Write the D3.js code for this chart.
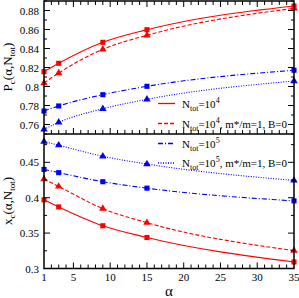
<!DOCTYPE html>
<html>
<head>
<meta charset="utf-8">
<script src="https://cdn.jsdelivr.net/npm/d3@7"></script>
<style>
  body { margin: 0; background: #fff; }
  svg { display: block; }
  svg text { font-family: "Liberation Serif", "DejaVu Serif", serif; }
</style>
</head>
<body>
<div id="grafica"></div>
<script>
// alpha values shared by all series
var alphas = [1, 3, 9, 15, 35];

// top panel: P_c(alpha, N_tot)
var pcN4 = [0.8156, 0.8244, 0.8465, 0.8598, 0.8847];
var pcN4free = [0.8037, 0.8142, 0.8392, 0.8539, 0.8823];
var pcN5 = [0.7742, 0.7795, 0.7914, 0.8002, 0.8171];
var pcN5free = [0.7549, 0.7623, 0.7766, 0.7865, 0.8058];

// bottom panel: x_c(alpha, N_tot)
var xcN4 = [0.3970, 0.3870, 0.3604, 0.3438, 0.3092];
var xcN4free = [0.4263, 0.4159, 0.3846, 0.3647, 0.3253];
var xcN5 = [0.4400, 0.4354, 0.4226, 0.4135, 0.3955];
var xcN5free = [0.4794, 0.4742, 0.4585, 0.4476, 0.4244];

var xTicks = [1, 5, 10, 15, 20, 25, 30, 35];
var pcTicks = [0.76, 0.78, 0.8, 0.82, 0.84, 0.86, 0.88];
var xcTicks = [0.3, 0.35, 0.4, 0.45];

var legendLabels = [
  { pow: "4", extra: "" },
  { pow: "4", extra: ", m*/m=1, B=0" },
  { pow: "5", extra: "" },
  { pow: "5", extra: ", m*/m=1, B=0" }
];

var W = 299, H = 298;
var left = 44, right = 294, top1 = 1, mid = 134, bot = 268.5;
var serif = "Liberation Serif";

var svg = d3.select("#grafica")
            .append("svg")
            .attr("width", W)
            .attr("height", H)
            .attr("font-family", serif);

var x = d3.scaleLinear().domain([1, 35]).range([left, right]);
var y1 = d3.scaleLinear().domain([0.75, 0.89]).range([mid, top1]);
var y2 = d3.scaleLinear().domain([0.3, 0.49]).range([bot, mid]);

var series = [
  { top: pcN4, bottom: xcN4, color: "#ff0000", dash: null, mark: "square" },
  { top: pcN4free, bottom: xcN4free, color: "#ff0000", dash: "4,2", mark: "triangle" },
  { top: pcN5, bottom: xcN5, color: "#0000ff", dash: "5,2,1,2", mark: "square" },
  { top: pcN5free, bottom: xcN5free, color: "#0000ff", dash: "1,1.5", mark: "triangle" }
];

function drawSeries(yScale, key) {
  var line = d3.line()
    .x(function(d) { return x(d[0]); })
    .y(function(d) { return yScale(d[1]); })
    .curve(d3.curveMonotoneX);
  series.forEach(function(s) {
    var pts = alphas.map(function(a, i) { return [a, s[key][i]]; });
    svg.append("path")
      .attr("d", line(pts))
      .attr("fill", "none")
      .attr("stroke", s.color)
      .attr("stroke-width", 1.1)
      .attr("stroke-dasharray", s.dash);
    var sym = d3.symbol()
      .type(s.mark == "square" ? d3.symbolSquare : d3.symbolTriangle)
      .size(s.mark == "square" ? 26 : 24);
    svg.selectAll(null)
      .data(pts)
      .enter()
      .append("path")
        .attr("d", sym)
        .attr("fill", s.color)
        .attr("transform", function(d) {
          return "translate(" + x(d[0]) + "," + yScale(d[1]) + ")";
        });
  });
}

drawSeries(y1, "top");
drawSeries(y2, "bottom");

// ticks, all inward
function tickLines(vals, fn) {
  vals.forEach(function(v) {
    var c = fn(v);
    svg.append("line")
      .attr("x1", c[0]).attr("y1", c[1]).attr("x2", c[2]).attr("y2", c[3])
      .attr("stroke", "#000").attr("stroke-width", 1);
  });
}

var xMajor = [5, 10, 15, 20, 25, 30];
var xMinor = d3.range(2, 35).filter(function(v) { return v % 5 != 0; });

// top panel, top and bottom edges
[top1, mid].forEach(function(yy) {
  var dir = yy == top1 ? 1 : -1;
  tickLines(xMajor, function(v) { return [x(v), yy, x(v), yy + dir * 6]; });
  tickLines(xMinor, function(v) { return [x(v), yy, x(v), yy + dir * 4]; });
});
// bottom panel bottom edge
tickLines(xMajor, function(v) { return [x(v), bot, x(v), bot - 6]; });
tickLines(xMinor, function(v) { return [x(v), bot, x(v), bot - 4]; });

var pcMinor = [0.75, 0.77, 0.79, 0.81, 0.83, 0.85, 0.87, 0.89];
var xcMinor = [0.325, 0.375, 0.425, 0.475];
[left, right].forEach(function(xx) {
  var dir = xx == left ? 1 : -1;
  tickLines(pcTicks, function(v) { return [xx, y1(v), xx + dir * 6, y1(v)]; });
  tickLines(pcMinor, function(v) { return [xx, y1(v), xx + dir * 3, y1(v)]; });
  tickLines(xcTicks, function(v) { return [xx, y2(v), xx + dir * 6, y2(v)]; });
  tickLines(xcMinor, function(v) { return [xx, y2(v), xx + dir * 3, y2(v)]; });
});

// frames
svg.append("rect")
  .attr("x", left).attr("y", top1)
  .attr("width", right - left).attr("height", bot - top1)
  .attr("fill", "none").attr("stroke", "#000").attr("stroke-width", 1.5);
svg.append("line")
  .attr("x1", left).attr("x2", right).attr("y1", mid).attr("y2", mid)
  .attr("stroke", "#000").attr("stroke-width", 1.5);

// tick labels
svg.selectAll("text.xl")
  .data(xTicks)
  .enter()
  .append("text")
    .attr("x", function(d) { return x(d); })
    .attr("y", 281)
    .attr("text-anchor", "middle")
    .attr("font-family", serif)
    .attr("font-size", 11)
    .text(function(d) { return d; });

svg.selectAll("text.y1")
  .data(pcTicks)
  .enter()
  .append("text")
    .attr("x", 39)
    .attr("y", function(d) { return y1(d) + 4; })
    .attr("text-anchor", "end")
    .attr("font-family", serif)
    .attr("font-size", 11)
    .text(function(d) { return d; });

svg.selectAll("text.y2")
  .data(xcTicks)
  .enter()
  .append("text")
    .attr("x", 39)
    .attr("y", function(d) { return y2(d) + 4; })
    .attr("text-anchor", "end")
    .attr("font-family", serif)
    .attr("font-size", 11)
    .text(function(d) { return d; });

// axis titles
function yTitle(letter, cy) {
  var t = svg.append("text")
    .attr("transform", "translate(12," + cy + ") rotate(-90)")
    .attr("text-anchor", "middle")
    .attr("font-family", serif)
    .attr("font-size", 13);
  t.append("tspan").text(letter);
  t.append("tspan").attr("font-size", 9).attr("dy", 3).text("c");
  t.append("tspan").attr("dy", -3).text("(α,N");
  t.append("tspan").attr("font-size", 9).attr("dy", 3).text("tot");
  t.append("tspan").attr("dy", -3).text(")");
}
yTitle("P", 67);
yTitle("x", 201);

svg.append("text")
  .attr("x", (left + right) / 2)
  .attr("y", 296)
  .attr("text-anchor", "middle")
  .attr("font-family", serif)
  .attr("font-size", 15)
  .text("α");

// legend
var legY = [103.5, 123.5, 143.5, 163];
var legLine = d3.line();
legendLabels.forEach(function(l, i) {
  var s = series[i];
  svg.append("path")
    .attr("d", legLine([[158, legY[i]], [175, legY[i]]]))
    .attr("fill", "none")
    .attr("stroke", s.color)
    .attr("stroke-width", 1.3)
    .attr("stroke-dasharray", s.dash);
  var t = svg.append("text")
    .attr("x", 182)
    .attr("y", legY[i] + 4)
    .attr("font-family", serif)
    .attr("font-size", 11);
  t.append("tspan").text("N");
  t.append("tspan").attr("font-size", 8).attr("dy", 3).text("tot");
  t.append("tspan").attr("dy", -3).text("=10");
  t.append("tspan").attr("font-size", 8).attr("dy", -5).text(l.pow);
  t.append("tspan").attr("dy", 5).text(l.extra);
});
</script>
</body>
</html>
